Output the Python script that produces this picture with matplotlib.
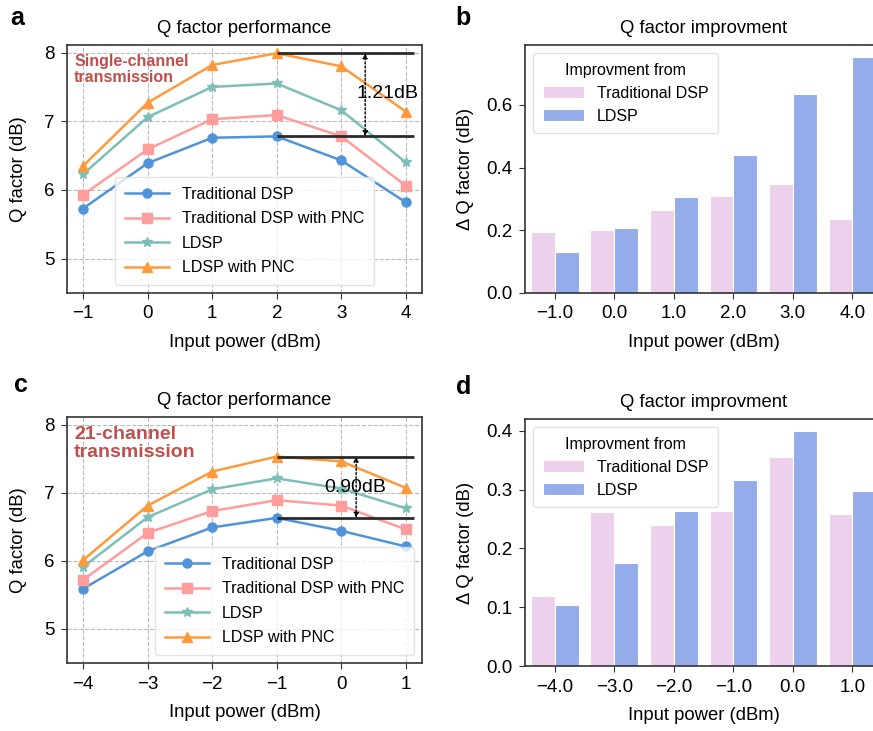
import matplotlib.pyplot as plt
import numpy as np

plt.rcParams['font.family'] = ['Liberation Sans', 'DejaVu Sans']

# ----- data: single-channel (panel a / b) -----
power_single = [-1, 0, 1, 2, 3, 4]
trad_single = [5.73, 6.39, 6.76, 6.78, 6.43, 5.82]
trad_pnc_single = [5.93, 6.59, 7.03, 7.09, 6.78, 6.06]
ldsp_single = [6.23, 7.06, 7.50, 7.55, 7.16, 6.40]
ldsp_pnc_single = [6.35, 7.27, 7.82, 7.99, 7.80, 7.14]

imp_trad_single = [0.196, 0.200, 0.265, 0.309, 0.347, 0.236]
imp_ldsp_single = [0.132, 0.208, 0.307, 0.439, 0.635, 0.753]

# ----- data: 21-channel (panel c / d) -----
power_wdm = [-4, -3, -2, -1, 0, 1]
trad_wdm = [5.59, 6.14, 6.49, 6.63, 6.44, 6.21]
trad_pnc_wdm = [5.72, 6.41, 6.73, 6.89, 6.81, 6.46]
ldsp_wdm = [5.91, 6.64, 7.05, 7.21, 7.06, 6.77]
ldsp_pnc_wdm = [6.01, 6.81, 7.31, 7.53, 7.46, 7.07]

imp_trad_wdm = [0.119, 0.262, 0.240, 0.264, 0.355, 0.258]
imp_ldsp_wdm = [0.104, 0.176, 0.263, 0.317, 0.400, 0.297]

series_labels = ["Traditional DSP", "Traditional DSP with PNC", "LDSP", "LDSP with PNC"]
line_colors = ["#4f94d8", "#ff9c9c", "#7bbfb6", "#ff9a3c"]
markers = ["o", "s", "*", "^"]
bar_colors = ["#ecd0ec", "#94acea"]
red_text = "#c0504d"
spine_col = "#333333"


def style_spines(ax):
    for s in ax.spines.values():
        s.set_color(spine_col)
        s.set_linewidth(1.2)
    ax.tick_params(labelsize=13.5, color=spine_col, length=4, pad=5)


def line_panel(ax, power, ys, legend_loc, note, note_size, gap_x, gap_text, hi, lo, text_xy):
    for y, lab, c, m in zip(ys, series_labels, line_colors, markers):
        ms = 7.5 if m == "*" else 6.5
        ax.plot(power, y, color=c, marker=m, markersize=ms, lw=1.8, label=lab)
    ax.grid(True, ls="--", color="#bbbbbb", lw=0.8)
    ax.set_axisbelow(True)
    ax.set_xlim(power[0] - 0.25, power[-1] + 0.25)
    ax.set_ylim(4.5, 8.11)
    ax.set_xticks(power)
    ax.set_yticks([5, 6, 7, 8])
    ax.set_xlabel("Input power (dBm)", fontsize=13.3, labelpad=8)
    ax.set_ylabel("Q factor (dB)", fontsize=13.3, labelpad=12)
    ax.set_title("Q factor performance", fontsize=13.3, pad=9)
    peak_x = power[int(np.argmax(ys[3]))]
    ax.hlines([hi, lo], peak_x, power[-1] + 0.12, color="#2b2b2b", lw=2, zorder=5)
    ax.annotate("", xy=(gap_x, hi), xytext=(gap_x, lo),
                arrowprops=dict(arrowstyle="<|-|>", ls=(0, (1.5, 1.5)), color="black",
                                lw=1, mutation_scale=7, shrinkA=0, shrinkB=0), zorder=6)
    ax.text(text_xy[0], text_xy[1], gap_text, fontsize=14, ha="center", va="center", zorder=6)
    ax.text(0.02, 0.965, note, transform=ax.transAxes, color=red_text, fontweight="bold",
            fontsize=note_size, ha="left", va="top", linespacing=1.1)
    ax.legend(loc=legend_loc, fontsize=11.5, framealpha=0.8, edgecolor="#dddddd",
              handlelength=2.8, borderpad=0.6, labelspacing=0.6)
    style_spines(ax)


def bar_panel(ax, power, trad, ldsp):
    x = np.arange(len(power))
    ax.bar(x - 0.2, trad, width=0.4, color=bar_colors[0], edgecolor="white", lw=0.8,
           label="Traditional DSP")
    ax.bar(x + 0.2, ldsp, width=0.4, color=bar_colors[1], edgecolor="white", lw=0.8,
           label="LDSP")
    ax.set_xlim(-0.5, len(power) - 0.5)
    ax.set_xticks(x)
    ax.set_xticklabels([f"{p:.1f}".replace("-", "\u2212") for p in power])
    ax.set_ylim(0, max(max(trad), max(ldsp)) * 1.05)
    ax.set_xlabel("Input power (dBm)", fontsize=13.3, labelpad=8)
    ax.set_ylabel("\u0394 Q factor (dB)", fontsize=13.3, labelpad=9)
    ax.set_title("Q factor improvment", fontsize=13.3, pad=9)
    ax.legend(title="Improvment from", loc="upper left", fontsize=11.5, title_fontsize=11.5,
              edgecolor="#dddddd", handlelength=2.6, borderpad=0.6)
    style_spines(ax)


fig = plt.figure(figsize=(8.73, 7.31), dpi=100)
ax_a = fig.add_axes([0.0767, 0.5992, 0.4067, 0.3392])
ax_b = fig.add_axes([0.6014, 0.5992, 0.4090, 0.3392])
ax_c = fig.add_axes([0.0767, 0.0930, 0.4067, 0.3365])
ax_d = fig.add_axes([0.6014, 0.0889, 0.4090, 0.3379])

line_panel(ax_a, power_single, [trad_single, trad_pnc_single, ldsp_single, ldsp_pnc_single],
           "lower center", "Single-channel\ntransmission", 11.5, 3.37, "1.21dB",
           max(ldsp_pnc_single), max(trad_single), (3.72, 7.41))
line_panel(ax_c, power_wdm, [trad_wdm, trad_pnc_wdm, ldsp_wdm, ldsp_pnc_wdm],
           "lower right", "21-channel\ntransmission", 14, 0.23, "0.90dB",
           max(ldsp_pnc_wdm), max(trad_wdm), (0.22, 7.08))
bar_panel(ax_b, power_single, imp_trad_single, imp_ldsp_single)
bar_panel(ax_d, power_wdm, imp_trad_wdm, imp_ldsp_wdm)

for lab, (x, y) in zip("abcd", [(0.012, 0.975), (0.522, 0.975), (0.016, 0.473), (0.522, 0.471)]):
    fig.text(x, y, lab, fontsize=18, fontweight="bold", ha="left", va="center")

fig.savefig("out.png", dpi=100)
